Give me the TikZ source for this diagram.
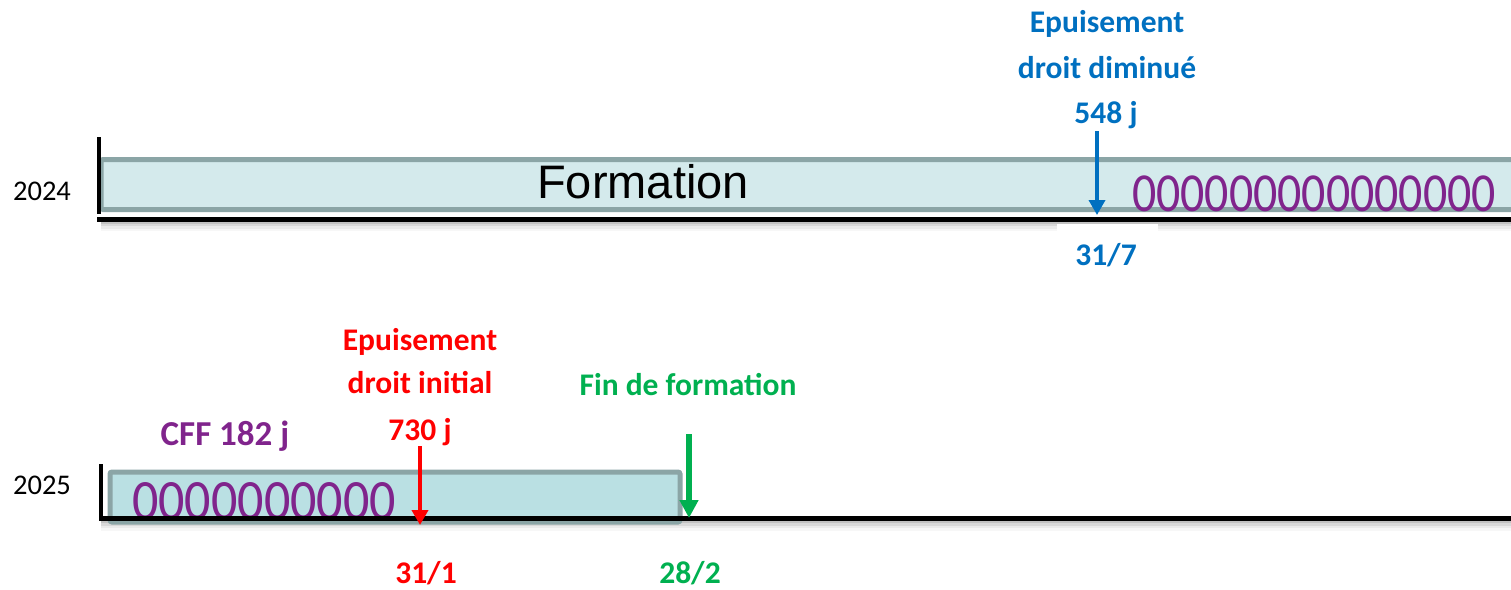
\documentclass[tikz,border=0pt]{standalone}
\usepackage{fontspec}
\setmainfont{Carlito}
\newfontfamily\arialf{Liberation Sans}
\usetikzlibrary{arrows.meta}
\definecolor{cblue}{HTML}{0070C0}
\definecolor{cred}{HTML}{FF0000}
\definecolor{cgreen}{HTML}{00B050}
\definecolor{cpurple}{RGB}{128,36,140}
\definecolor{boxline}{RGB}{139,165,166}
\definecolor{topfill}{RGB}{212,234,236}
\definecolor{botfill}{RGB}{186,224,227}
\begin{document}
\begin{tikzpicture}[x=1pt,y=-1pt,
  lbl/.style={anchor=base,inner sep=0pt,font=\bfseries\fontsize{31.5}{31.5}\selectfont},
  yearlbl/.style={anchor=base,inner sep=0pt,font=\fontsize{28.5}{28.5}\selectfont},
  zeros/.style={anchor=base,inner sep=0pt,text=cpurple},
  bar/.style={draw=boxline,line width=5pt,rounded corners=2pt},
  axisline/.style={line width=5pt,black},
  tickline/.style={line width=4pt,black},
  shadowline/.style={line width=2.5pt,black},
  marker/.style={line width=3.8pt,-{Triangle[width=16pt,length=15pt]}}]
\useasboundingbox (0,0) rectangle (1511,589);
\clip (0,0) rectangle (1511,589);
% ---------- 2024 ----------
\foreach \d/\o in {3.5/0.24,6/0.15,8.5/0.08,11/0.03}{
  \draw[shadowline,opacity=\o] (101,219+\d) -- (1520,219+\d);}
\fill[white] (1057,224) rectangle (1158,245);
\draw[bar,fill=topfill] (101,159.5) rectangle (1530,209.5);
\node[anchor=base,inner sep=0pt,font=\arialf\fontsize{47}{47}\selectfont] (formation) at (643,198) {Formation};
\node[zeros,font=\fontsize{55}{55}\selectfont] (zerostop) at (1314,211.5) {\scalebox{0.87}[1]{000000000000000}};
\draw[tickline] (99,137) -- (99,214);
\draw[axisline] (97,219) -- (1520,219);
\node[yearlbl] (y2024) at (42,200) {2024};
\node[lbl,text=cblue] (b1) at (1107,32) {Epuisement};
\node[lbl,text=cblue] (b2) at (1107,78) {droit diminué};
\node[lbl,text=cblue] (b3) at (1106,123) {548 j};
\node[lbl,text=cblue] (b4) at (1106,265) {31/7};
\coordinate (bTop) at (1097,131);
\coordinate (bTip) at (1097,215);
\draw[marker,cblue,line width=3.5pt] (bTop) -- (bTip);
% ---------- 2025 ----------
\foreach \d/\o in {3.5/0.24,6/0.15,8.5/0.08,11/0.03}{
  \draw[shadowline,opacity=\o] (101,518.5+\d) -- (1520,518.5+\d);}
\draw[bar,fill=botfill] (110,472) rectangle (680,522);
\node[zeros,font=\fontsize{57}{57}\selectfont] (zerosbot) at (264,519.5) {\scalebox{0.913}[1]{0000000000}};
\draw[tickline] (101,464) -- (101,520);
\draw[axisline] (99,518.5) -- (1520,518.5);
\node[yearlbl] (y2025) at (42,494) {2025};
\node[anchor=base,inner sep=0pt,font=\bfseries\fontsize{35}{35}\selectfont,text=cpurple] (cff) at (225,445) {CFF 182 j};
\node[lbl,text=cred] (r1) at (420,350) {Epuisement};
\node[lbl,text=cred] (r2) at (420,393) {droit initial};
\node[lbl,text=cred] (r3) at (420,440) {730 j};
\node[lbl,text=cred] (r4) at (426,583) {31/1};
\coordinate (rTop) at (420,446);
\coordinate (rTip) at (420,525);
\draw[marker,cred,line width=4pt] (rTop) -- (rTip);
\node[lbl,text=cgreen] (g1) at (688,395) {Fin de formation};
\node[lbl,text=cgreen] (g2) at (690,583) {28/2};
\coordinate (gTop) at (689,434);
\coordinate (gTip) at (689,518);
\draw[marker,cgreen,line width=6pt,-{Triangle[width=18pt,length=18pt]}] (gTop) -- (gTip);
\end{tikzpicture}
\end{document}
